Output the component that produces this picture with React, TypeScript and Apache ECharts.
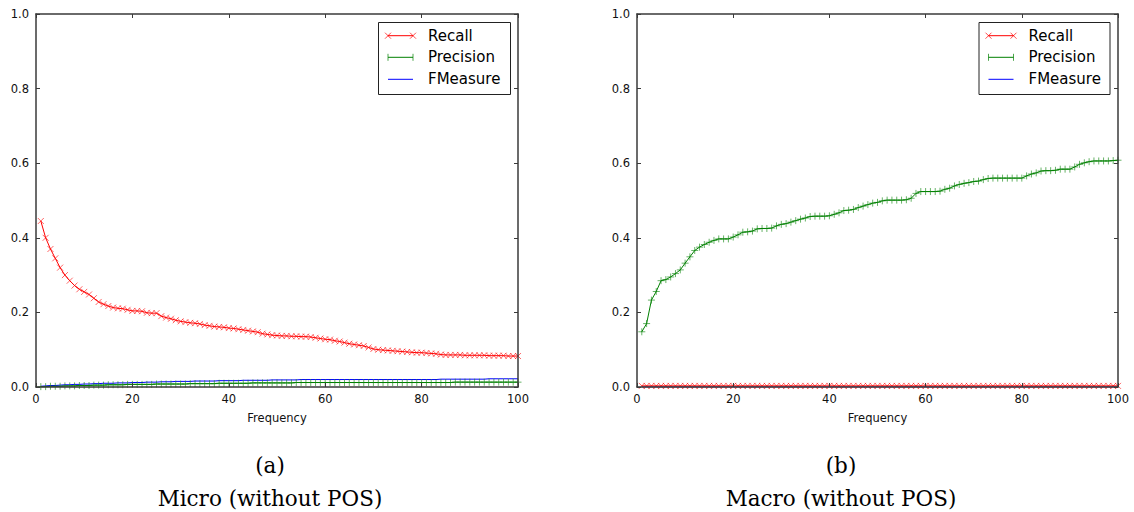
import React, { useEffect, useRef } from "react";
import * as echarts from "echarts";

const frequencies: number[] = Array.from({ length: 100 }, (_, i) => i + 1);

const microRecall = [
  0.445, 0.400, 0.370, 0.345, 0.320, 0.300, 0.285, 0.272, 0.262, 0.255,
  0.248, 0.238, 0.228, 0.222, 0.217, 0.213, 0.211, 0.210, 0.207, 0.204,
  0.204, 0.203, 0.199, 0.198, 0.198, 0.190, 0.186, 0.183, 0.179, 0.176,
  0.174, 0.172, 0.171, 0.169, 0.166, 0.164, 0.162, 0.161, 0.160, 0.158,
  0.157, 0.155, 0.153, 0.151, 0.149, 0.147, 0.143, 0.141, 0.139, 0.138,
  0.137, 0.137, 0.136, 0.136, 0.135, 0.135, 0.134, 0.132, 0.130, 0.128,
  0.127, 0.124, 0.122, 0.119, 0.116, 0.114, 0.112, 0.110, 0.106, 0.102,
  0.100, 0.099, 0.098, 0.097, 0.096, 0.095, 0.094, 0.093, 0.092, 0.092,
  0.091, 0.090, 0.089, 0.087, 0.086, 0.086, 0.086, 0.086, 0.085, 0.085,
  0.085, 0.085, 0.085, 0.084, 0.084, 0.084, 0.084, 0.083, 0.083, 0.083,
];

const microPrecision = [
  0.001, 0.001, 0.002, 0.002, 0.002, 0.003, 0.003, 0.003, 0.004, 0.004,
  0.004, 0.005, 0.005, 0.005, 0.006, 0.006, 0.006, 0.006, 0.007, 0.007,
  0.007, 0.007, 0.007, 0.007, 0.008, 0.008, 0.008, 0.008, 0.008, 0.008,
  0.008, 0.009, 0.009, 0.009, 0.009, 0.009, 0.009, 0.010, 0.010, 0.010,
  0.010, 0.010, 0.010, 0.010, 0.011, 0.011, 0.011, 0.011, 0.011, 0.011,
  0.011, 0.011, 0.011, 0.012, 0.012, 0.012, 0.012, 0.012, 0.012, 0.012,
  0.012, 0.012, 0.012, 0.012, 0.012, 0.012, 0.012, 0.012, 0.012, 0.012,
  0.012, 0.012, 0.012, 0.012, 0.012, 0.012, 0.012, 0.012, 0.012, 0.012,
  0.012, 0.012, 0.012, 0.012, 0.012, 0.012, 0.013, 0.013, 0.013, 0.013,
  0.013, 0.013, 0.013, 0.013, 0.013, 0.013, 0.013, 0.013, 0.013, 0.013,
];

const microFMeasure = [
  0.002, 0.003, 0.004, 0.004, 0.005, 0.006, 0.006, 0.007, 0.007, 0.008,
  0.008, 0.009, 0.009, 0.010, 0.010, 0.010, 0.011, 0.011, 0.011, 0.012,
  0.012, 0.012, 0.013, 0.013, 0.013, 0.014, 0.014, 0.014, 0.015, 0.015,
  0.015, 0.015, 0.016, 0.016, 0.016, 0.016, 0.016, 0.017, 0.017, 0.017,
  0.017, 0.017, 0.018, 0.018, 0.018, 0.018, 0.018, 0.018, 0.019, 0.019,
  0.019, 0.019, 0.019, 0.019, 0.020, 0.020, 0.020, 0.020, 0.020, 0.020,
  0.020, 0.020, 0.020, 0.020, 0.020, 0.020, 0.020, 0.020, 0.020, 0.020,
  0.020, 0.020, 0.020, 0.020, 0.020, 0.020, 0.020, 0.020, 0.020, 0.020,
  0.020, 0.020, 0.020, 0.021, 0.021, 0.021, 0.021, 0.021, 0.021, 0.021,
  0.021, 0.021, 0.021, 0.022, 0.022, 0.022, 0.022, 0.022, 0.022, 0.022,
];

const macroRecall = [
  0.003, 0.003, 0.003, 0.003, 0.003, 0.003, 0.003, 0.003, 0.003, 0.003,
  0.003, 0.003, 0.003, 0.003, 0.003, 0.003, 0.003, 0.003, 0.003, 0.003,
  0.003, 0.003, 0.003, 0.003, 0.003, 0.003, 0.003, 0.003, 0.003, 0.003,
  0.003, 0.003, 0.003, 0.003, 0.003, 0.003, 0.003, 0.003, 0.003, 0.003,
  0.003, 0.003, 0.003, 0.003, 0.003, 0.003, 0.003, 0.003, 0.003, 0.003,
  0.003, 0.003, 0.003, 0.003, 0.003, 0.003, 0.003, 0.003, 0.003, 0.003,
  0.003, 0.003, 0.003, 0.003, 0.003, 0.003, 0.003, 0.003, 0.003, 0.003,
  0.003, 0.003, 0.003, 0.003, 0.003, 0.003, 0.003, 0.003, 0.003, 0.003,
  0.003, 0.003, 0.003, 0.003, 0.003, 0.003, 0.003, 0.003, 0.003, 0.003,
  0.003, 0.003, 0.003, 0.003, 0.003, 0.003, 0.003, 0.003, 0.003, 0.003,
];

const macroPrecision = [
  0.148, 0.170, 0.233, 0.256, 0.285, 0.288, 0.295, 0.304, 0.314, 0.332,
  0.349, 0.366, 0.375, 0.382, 0.388, 0.393, 0.397, 0.397, 0.397, 0.402,
  0.408, 0.415, 0.416, 0.418, 0.424, 0.425, 0.425, 0.426, 0.432, 0.436,
  0.438, 0.442, 0.446, 0.450, 0.453, 0.457, 0.458, 0.458, 0.458, 0.459,
  0.463, 0.467, 0.473, 0.474, 0.476, 0.481, 0.485, 0.489, 0.493, 0.495,
  0.499, 0.501, 0.501, 0.501, 0.501, 0.502, 0.506, 0.519, 0.524, 0.524,
  0.524, 0.524, 0.525, 0.530, 0.533, 0.539, 0.543, 0.546, 0.548, 0.551,
  0.552, 0.556, 0.559, 0.560, 0.560, 0.560, 0.560, 0.560, 0.560, 0.560,
  0.566, 0.571, 0.574, 0.579, 0.580, 0.580, 0.581, 0.584, 0.584, 0.584,
  0.590, 0.597, 0.601, 0.604, 0.606, 0.606, 0.606, 0.606, 0.607, 0.608,
];

const macroFMeasure = [
  0, 0, 0, 0, 0, 0, 0, 0, 0, 0, 0, 0, 0, 0, 0, 0, 0, 0, 0, 0,
  0, 0, 0, 0, 0, 0, 0, 0, 0, 0, 0, 0, 0, 0, 0, 0, 0, 0, 0, 0,
  0, 0, 0, 0, 0, 0, 0, 0, 0, 0, 0, 0, 0, 0, 0, 0, 0, 0, 0, 0,
  0, 0, 0, 0, 0, 0, 0, 0, 0, 0, 0, 0, 0, 0, 0, 0, 0, 0, 0, 0,
  0, 0, 0, 0, 0, 0, 0, 0, 0, 0, 0, 0, 0, 0, 0, 0, 0, 0, 0, 0,
];

const seriesNames = ["Recall", "Precision", "FMeasure"];
const xTicks = { min: 0, max: 100, interval: 20 };
const yTicks = { min: 0, max: 1, interval: 0.2 };
const xAxisName = "Frequency";
const subLabels = ["(a)", "(b)"];
const captions = ["Micro (without POS)", "Macro (without POS)"];

const RED = "#ff0000";
const GREEN = "#008000";
const BLUE = "#0000ff";
const SPINE = "#3a3a3a";
const SANS = "DejaVu Sans";
const SERIF = "DejaVu Serif";

const X_SYMBOL = "path://M0,0L10,10M10,0L0,10";
const PLUS_SYMBOL = "path://M5,0L5,10M0,5L10,5";

const pairs = (vals: number[]) => frequencies.map((f, i) => [f, vals[i]]);

export default function App() {
  const ref = useRef<HTMLDivElement>(null);

  useEffect(() => {
    if (!ref.current) return;
    const chart = echarts.init(ref.current, undefined, { renderer: "svg" });

    const grids = [
      { left: 36, top: 14, width: 482, height: 373 },
      { left: 637, top: 14, width: 481, height: 373 },
    ];

    const tick = { show: true, inside: true, length: 4, lineStyle: { color: SPINE, width: 1 } };
    const line = { show: true, onZero: false, lineStyle: { color: SPINE, width: 1.5 } };

    const xAxes: any[] = [];
    const yAxes: any[] = [];
    grids.forEach((_, g) => {
      xAxes.push({
        type: "value", gridIndex: g, position: "bottom", ...xTicks, z: 5,
        axisLine: line, axisTick: tick, splitLine: { show: false },
        axisLabel: { show: true, margin: 6, color: "#111", fontFamily: SANS, fontSize: 11.5 },
        name: xAxisName, nameLocation: "middle", nameGap: 25,
        nameTextStyle: { color: "#111", fontFamily: SANS, fontSize: 11.5 },
      });
      xAxes.push({
        type: "value", gridIndex: g, position: "top", ...xTicks, z: 5,
        axisLine: line, axisTick: tick, splitLine: { show: false }, axisLabel: { show: false },
      });
      yAxes.push({
        type: "value", gridIndex: g, position: "left", ...yTicks, z: 5,
        axisLine: line, axisTick: tick, splitLine: { show: false },
        axisLabel: {
          show: true, margin: 7, color: "#111", fontFamily: SANS, fontSize: 11.5,
          formatter: (v: number) => v.toFixed(1),
        },
      });
      yAxes.push({
        type: "value", gridIndex: g, position: "right", ...yTicks, z: 5,
        axisLine: line, axisTick: tick, splitLine: { show: false }, axisLabel: { show: false },
      });
    });

    const mk = (name: string, data: number[], g: number, color: string, symbol: string | null, size: number) => ({
      type: "line",
      name,
      xAxisIndex: g * 2,
      yAxisIndex: g * 2,
      data: pairs(data),
      showSymbol: !!symbol,
      symbol: symbol || "none",
      symbolSize: size,
      lineStyle: { color, width: 1 },
      itemStyle: { color, borderColor: color, borderWidth: 1, opacity: 0.6 },
      emphasis: { disabled: true },
      silent: true,
      z: 2,
    });

    const series = [
      mk(seriesNames[0], microRecall, 0, RED, X_SYMBOL, 6),
      mk(seriesNames[1], microPrecision, 0, GREEN, PLUS_SYMBOL, 7),
      mk(seriesNames[2], microFMeasure, 0, BLUE, null, 0),
      mk(seriesNames[2], macroFMeasure, 1, BLUE, null, 0),
      mk(seriesNames[0], macroRecall, 1, RED, X_SYMBOL, 6),
      mk(seriesNames[1], macroPrecision, 1, GREEN, PLUS_SYMBOL, 7),
    ];

    const legend = (ox: number, w: number) => {
      const rows = [35.7, 57.3, 79.3];
      const x1 = 388 + ox;
      const x2 = 413 + ox;
      const els: any[] = [
        {
          type: "rect",
          shape: { x: 378.5 + ox, y: 22.5, width: w, height: 72 },
          style: { fill: "#fff", stroke: "#222", lineWidth: 1 },
          z: 10,
        },
      ];
      const colors = [RED, GREEN, BLUE];
      rows.forEach((y, i) => {
        els.push({
          type: "line", z: 11,
          shape: { x1, y1: y, x2, y2: y },
          style: { stroke: colors[i], lineWidth: 1 },
        });
        [x1, x2].forEach((cx) => {
          if (i === 0) {
            els.push({ type: "line", z: 11, shape: { x1: cx - 3, y1: y - 3, x2: cx + 3, y2: y + 3 }, style: { stroke: RED, lineWidth: 1, opacity: 0.7 } });
            els.push({ type: "line", z: 11, shape: { x1: cx - 3, y1: y + 3, x2: cx + 3, y2: y - 3 }, style: { stroke: RED, lineWidth: 1, opacity: 0.7 } });
          } else if (i === 1) {
            els.push({ type: "line", z: 11, shape: { x1: cx, y1: y - 3.5, x2: cx, y2: y + 3.5 }, style: { stroke: GREEN, lineWidth: 1, opacity: 0.7 } });
          }
        });
        els.push({
          type: "text", z: 11,
          x: 428 + ox, y,
          style: { text: seriesNames[i], font: `15px ${SANS}`, fill: "#000", align: "left", verticalAlign: "middle" },
        });
      });
      return els;
    };

    const captionEls = (cx: number, i: number) => [
      {
        type: "text", x: cx, y: 465,
        style: { text: subLabels[i], font: `21.5px ${SERIF}`, fill: "#000", align: "center", verticalAlign: "middle" },
      },
      {
        type: "text", x: cx, y: 498,
        style: { text: captions[i], font: `21.5px ${SERIF}`, fill: "#000", align: "center", verticalAlign: "middle" },
      },
    ];

    chart.setOption({
      animation: false,
      backgroundColor: "#fff",
      grid: grids.map((g) => ({ ...g, show: false })),
      xAxis: xAxes,
      yAxis: yAxes,
      series,
      graphic: [
        ...legend(0, 132),
        ...legend(600.5, 131),
        ...captionEls(270, 0),
        ...captionEls(841, 1),
      ],
    });

    return () => chart.dispose();
  }, []);

  return (
    <div
      ref={ref}
      style={{ position: "fixed", left: 0, top: 0, width: 1134, height: 512 }}
    />
  );
}
